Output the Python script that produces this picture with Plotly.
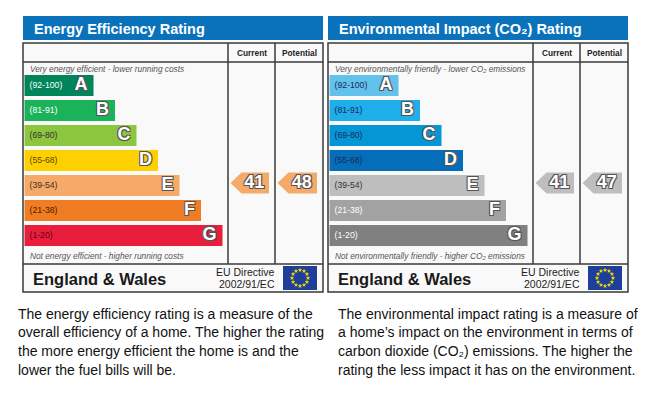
import math
import plotly.graph_objects as go

# band data shared by both ratings
bands = ["A", "B", "C", "D", "E", "F", "G"]
band_ranges = ["(92-100)", "(81-91)", "(69-80)", "(55-68)", "(39-54)", "(21-38)", "(1-20)"]
band_low = [92, 81, 69, 55, 39, 21, 1]

ee_colors = ["#00855a", "#1bb35a", "#8cc63f", "#ffd000", "#f5aa69", "#f07d23", "#e91e3c"]
ee_range_font = ["#ffffff", "#ffffff", "#333333", "#5a4a00", "#4a3020", "#4a2000", "#6a0018"]
ei_colors = ["#62c2ec", "#1eaeea", "#0596d6", "#066eb9", "#bebebe", "#a2a2a2", "#808080"]
ei_range_font = ["#1a2a55", "#1a2a55", "#1a2a55", "#1a2a55", "#333333", "#ffffff", "#ffffff"]

ee_current = 41
ee_potential = 48
ei_current = 41
ei_potential = 47

titles = ["Energy Efficiency Rating", "Environmental Impact (CO\u2082) Rating"]
top_notes = ["Very energy efficient - lower running costs",
             "Very environmentally friendly - lower CO\u2082 emissions"]
bottom_notes = ["Not energy efficient - higher running costs",
                "Not environmentally friendly - higher CO\u2082 emissions"]
col_heads = ["Current", "Potential"]
footer_left = "England & Wales"
footer_right = ["EU Directive", "2002/91/EC"]

ee_text = ["The energy efficiency rating is a measure of the",
           "overall efficiency of a home. The higher the rating",
           "the more energy efficient the home is and the",
           "lower the fuel bills will be."]
ei_text = ["The environmental impact rating is a measure of",
           "a home\u2019s impact on the environment in terms of",
           "carbon dioxide (CO\u2082) emissions. The higher the",
           "rating the less impact it has on the environment."]

FONT = "Liberation Sans, Arial, sans-serif"
OUTLINE = "1px 1px 0 #555, -1px -1px 0 #555, 1px -1px 0 #555, -1px 1px 0 #555"
BLUE = "#0a72bb"


def band_of(v):
    for i, lo in enumerate(band_low):
        if v >= lo:
            return i
    return len(band_low) - 1


fig = go.Figure()
shapes = []
annotations = []

panels = [
    (0, ee_colors, ee_range_font, ee_current, ee_potential),
    (305, ei_colors, ei_range_font, ei_current, ei_potential),
]

for p, (dx, colors, rfont, cur, pot) in enumerate(panels):
    left = 23 + dx
    right = 323 + dx
    c1 = 228 + dx
    c2 = 275 + dx

    # title bar
    shapes.append(dict(type="rect", x0=left, x1=right, y0=16, y1=40,
                       fillcolor=BLUE, line=dict(width=0), layer="below"))
    annotations.append(dict(x=left + 9, y=28.5, text="<b>%s</b>" % titles[p],
                            showarrow=False, xanchor="left", yanchor="middle",
                            font=dict(family=FONT, size=14.5, color="white")))

    # table
    shapes.append(dict(type="rect", x0=left, x1=right, y0=43, y1=292,
                       fillcolor="#f9f9f9", line=dict(color="#3a3a3a", width=1.5), layer="below"))
    for yy in (62, 264):
        shapes.append(dict(type="line", x0=left, x1=right, y0=yy, y1=yy,
                           line=dict(color="#3a3a3a", width=1.5)))
    for xx in (c1, c2):
        shapes.append(dict(type="line", x0=xx, x1=xx, y0=43, y1=264,
                           line=dict(color="#3a3a3a", width=1.5)))
    for k, (xa, xb) in enumerate([(c1, c2), (c2, right)]):
        annotations.append(dict(x=(xa + xb) / 2, y=52.5, text="<b>%s</b>" % col_heads[k],
                                showarrow=False, font=dict(family=FONT, size=8.3, color="#222")))

    annotations.append(dict(x=left + 5, y=69, text="<i>%s</i>" % top_notes[p], showarrow=False,
                            xanchor="left", font=dict(family=FONT, size=8.3, color="#555")))
    annotations.append(dict(x=left + 5, y=255.5, text="<i>%s</i>" % bottom_notes[p], showarrow=False,
                            xanchor="left", font=dict(family=FONT, size=8.3, color="#555")))

    # bars
    centers = [85.5 + 25 * i for i in range(len(bands))]
    lengths = [69 + 21.5 * i for i in range(len(bands))]
    base = left + 1.5
    fig.add_trace(go.Bar(orientation="h", y=centers, x=lengths, base=base, width=21,
                         marker=dict(color=colors, line=dict(width=0)),
                         hoverinfo="skip", showlegend=False))
    fig.add_trace(go.Scatter(x=[base + 5] * len(bands), y=centers, mode="text",
                             text=band_ranges, textposition="middle right",
                             textfont=dict(family=FONT, size=8.7, color=rfont),
                             hoverinfo="skip", showlegend=False))
    fig.add_trace(go.Scatter(x=[base + l - 6 for l in lengths], y=centers, mode="text",
                             text=bands, textposition="middle left",
                             textfont=dict(family=FONT, size=18, color="white",
                                           weight="bold", shadow=OUTLINE),
                             hoverinfo="skip", showlegend=False))

    # rating arrows
    for val, (xa, xb) in [(cur, (c1, c2)), (pot, (c2, right))]:
        b = band_of(val)
        cy = centers[b] - 2.5
        tip = xa + 2.5
        end = xb - 6
        hh = 10.5
        fig.add_trace(go.Scatter(
            x=[tip, tip + 11, end, end, tip + 11, tip],
            y=[cy, cy - hh, cy - hh, cy + hh, cy + hh, cy],
            mode="lines", fill="toself", fillcolor=colors[b],
            line=dict(width=0, color=colors[b]), hoverinfo="skip", showlegend=False))
        fig.add_trace(go.Scatter(x=[(tip + 9 + end) / 2], y=[cy + 0.5], mode="text",
                                 text=[str(val)], textposition="middle center",
                                 textfont=dict(family=FONT, size=18, color="white",
                                               weight="bold", shadow=OUTLINE),
                                 hoverinfo="skip", showlegend=False))

    # footer
    annotations.append(dict(x=left + 8, y=278.5, text="<b>%s</b>" % footer_left, showarrow=False,
                            xanchor="left", font=dict(family=FONT, size=16.5, color="#1a1a1a")))
    for k, t in enumerate(footer_right):
        annotations.append(dict(x=right - 46, y=271.5 + 12.5 * k, text=t, showarrow=False,
                                xanchor="right", font=dict(family=FONT, size=10.5, color="#222")))
    fx0, fx1, fy0, fy1 = right - 40, right - 6, 266, 290
    shapes.append(dict(type="rect", x0=fx0, x1=fx1, y0=fy0, y1=fy1,
                       fillcolor="#1d3f99", line=dict(width=0), layer="below"))
    cx, cyf = (fx0 + fx1) / 2, (fy0 + fy1) / 2
    sx = [cx + 8 * math.cos(2 * math.pi * k / 12) for k in range(12)]
    sy = [cyf + 8 * math.sin(2 * math.pi * k / 12) for k in range(12)]
    fig.add_trace(go.Scatter(x=sx, y=sy, mode="markers",
                             marker=dict(symbol="star", size=3.5, color="#ffdd00", line=dict(width=0)),
                             hoverinfo="skip", showlegend=False))

    # description paragraph
    lines = ee_text if p == 0 else ei_text
    for k, t in enumerate(lines):
        annotations.append(dict(x=16 + dx * 1.05, y=313.5 + 18.9 * k, text=t, showarrow=False,
                                xanchor="left", font=dict(family=FONT, size=14, color="#111")))

fig.update_layout(
    width=656, height=403,
    margin=dict(l=0, r=0, t=0, b=0),
    paper_bgcolor="white", plot_bgcolor="white",
    barmode="overlay",
    xaxis=dict(range=[0, 656], visible=False, fixedrange=True),
    yaxis=dict(range=[403, 0], visible=False, fixedrange=True),
    shapes=shapes,
    annotations=annotations,
)

# the page body has a default 8px margin; drop it so the chart fills the window
fig.write_html("out.html", config={"displayModeBar": False},
               post_script="document.body.style.margin='0';")
